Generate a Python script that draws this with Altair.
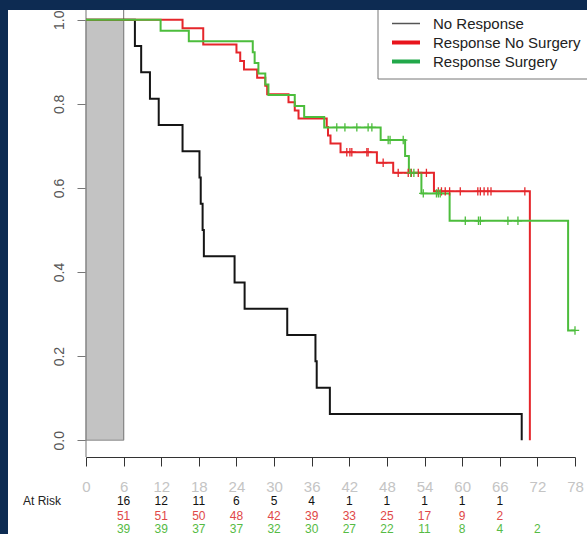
import altair as alt
import pandas as pd

groups = ["No Response", "Response No Surgery", "Response Surgery"]
line_colors = ["#151515", "#e5262b", "#4cbd3c"]
legend_colors = ["#555555", "#e8141c", "#22a84a"]

# Kaplan-Meier steps (months, survival)
nr_time = [0, 7.8, 8.8, 10.2, 11.6, 15.4, 18.1, 18.3, 18.6, 18.8, 23.7, 25.3, 32.1, 36.6, 36.8, 38.9, 69.5]
nr_surv = [1.0, 0.9375, 0.875, 0.8125, 0.75, 0.6875, 0.625, 0.5625, 0.5, 0.4375, 0.375, 0.3125, 0.25, 0.1875, 0.125, 0.0625, 0.0]

rn_time = [0, 15.4, 18.7, 24.0, 24.6, 25.2, 27.3, 28.6, 28.9, 32.3, 33.3, 33.9, 38.4, 38.6, 39.0, 40.6, 46.4, 49.0, 55.5, 70.8]
rn_surv = [1.0, 0.980, 0.941, 0.922, 0.902, 0.882, 0.862, 0.843, 0.823, 0.804, 0.784, 0.765, 0.745, 0.725, 0.706, 0.685, 0.660, 0.636, 0.592, 0.0]

rs_time = [0, 11.9, 16.4, 26.6, 26.9, 27.5, 28.6, 29.1, 33.3, 34.8, 38.0, 47.0, 50.9, 51.5, 53.5, 58.0, 76.9, 78.0]
rs_surv = [1.0, 0.974, 0.949, 0.923, 0.897, 0.872, 0.846, 0.821, 0.795, 0.769, 0.744, 0.714, 0.676, 0.636, 0.587, 0.522, 0.261, 0.261]

# censoring marks
rn_cens_time = [41.6, 42.1, 42.4, 44.8, 45.0, 47.4, 49.8, 51.4, 51.9, 53.0, 54.3,
                56.2, 56.7, 57.3, 58.0, 59.7, 62.5, 62.9, 63.5, 64.1, 64.6, 70.0]
rn_cens_surv = [0.685] * 5 + [0.660] + [0.636] * 5 + [0.592] * 11
rs_cens_time = [40.0, 41.3, 43.2, 45.0, 45.6, 48.2, 48.5, 50.6, 51.8, 52.3,
                53.8, 55.9, 56.2, 56.5, 60.5, 62.6, 62.9, 67.3, 68.9, 78.0]
rs_cens_surv = [0.744] * 5 + [0.714] * 3 + [0.636] * 2 + [0.587] * 4 + [0.522] * 5 + [0.261]

# at risk table
risk_months = [6, 12, 18, 24, 30, 36, 42, 48, 54, 60, 66, 72]
risk_nr = [16, 12, 11, 6, 5, 4, 1, 1, 1, 1, 1]
risk_rn = [51, 51, 50, 48, 42, 39, 33, 25, 17, 9, 2]
risk_rs = [39, 39, 37, 37, 32, 30, 27, 22, 11, 8, 4, 2]

x_ticks = list(range(0, 79, 6))
y_ticks = [0.0, 0.2, 0.4, 0.6, 0.8, 1.0]

shade_start, shade_end = 0, 6

FONT = "Liberation Sans"
NAVY = "#0d2b52"

curves = pd.concat([
    pd.DataFrame({"t": nr_time, "s": nr_surv, "g": groups[0]}),
    pd.DataFrame({"t": rn_time, "s": rn_surv, "g": groups[1]}),
    pd.DataFrame({"t": rs_time, "s": rs_surv, "g": groups[2]}),
])
cens = pd.concat([
    pd.DataFrame({"t": rn_cens_time, "s": rn_cens_surv, "g": groups[1]}),
    pd.DataFrame({"t": rs_cens_time, "s": rs_cens_surv, "g": groups[2]}),
])

xs = alt.Scale(domain=[0, 78], nice=False, zero=False)
ys = alt.Scale(domain=[-0.04, 1.04], nice=False, zero=False)
cs = alt.Scale(domain=groups, range=line_colors)

x_axis = alt.Axis(values=x_ticks, title=None, grid=False, tickSize=9, tickColor="#333",
                  domainColor="#333", labelColor="#c4c4c4", labelFontSize=15, labelFont=FONT,
                  labelPadding=13, labelFlush=False, labelOverlap=False, labelBound=False)
y_axis = alt.Axis(values=y_ticks, title=None, grid=False, tickSize=9, tickColor="#777",
                  domain=False, labelColor="#555", labelFontSize=14, labelFont=FONT,
                  labelAngle=270, labelAlign="center", labelBaseline="alphabetic",
                  labelPadding=14, format=".1f", labelFlush=False, labelOverlap=False)


def X(field):
    return alt.X(field, scale=xs, axis=x_axis)


def Y(field):
    return alt.Y(field, scale=ys, axis=y_axis)


shade = alt.Chart(pd.DataFrame({"a": [shade_start], "b": [shade_end], "lo": [0.0], "hi": [1.0]})).mark_rect(
    fill="#c3c3c3", stroke="#8a8a8a", strokeWidth=1
).encode(x=X("a:Q"), x2="b:Q", y=Y("lo:Q"), y2="hi:Q")

edge_rules = alt.Chart(pd.DataFrame({"a": [shade_start, shade_end], "lo": [-0.04, 0.0], "hi": [1.04, 1.04]})).mark_rule(
    color="#8a8a8a", strokeWidth=1.2
).encode(x=X("a:Q"), y=Y("lo:Q"), y2="hi:Q")

lines = alt.Chart(curves).mark_line(interpolate="step-after", strokeWidth=2).encode(
    x=X("t:Q"), y=Y("s:Q"),
    color=alt.Color("g:N", scale=cs, legend=None),
    detail="g:N"
)

marks = alt.Chart(cens).mark_point(shape="M-1,0L1,0M0,-1L0,1", filled=False, size=70, strokeWidth=1.3, opacity=1).encode(
    x=X("t:Q"), y=Y("s:Q"),
    color=alt.Color("g:N", scale=cs, legend=None)
)

risk_layers = []
row_y = [498, 512.5, 525.5]
row_colors = ["#111111", "#e04848", "#55bb44"]
for counts, yy, col in zip([risk_nr, risk_rn, risk_rs], row_y, row_colors):
    df = pd.DataFrame({"m": risk_months[:len(counts)], "n": [str(c) for c in counts]})
    risk_layers.append(alt.Chart(df).mark_text(font=FONT, fontSize=12, color=col, baseline="middle").encode(
        x=X("m:Q"), y=alt.value(yy), text="n:N"))

at_risk_label = alt.Chart(pd.DataFrame({"l": ["At Risk"]})).mark_text(
    font=FONT, fontSize=12, color="#222", baseline="middle", align="center"
).encode(x=alt.value(-44), y=alt.value(498), text="l:N")

# legend
leg_box = alt.Chart(pd.DataFrame({"k": [0]})).mark_rect(fill="white", stroke="#777", strokeWidth=1).encode(
    x=alt.value(292), x2=alt.value(520), y=alt.value(-10), y2=alt.value(76))
leg_layers = [leg_box]
leg_y = [20.5, 39.5, 58.5]
leg_w = [1.5, 4, 4]
for g, col, yy, w in zip(groups, legend_colors, leg_y, leg_w):
    dfg = pd.DataFrame({"g": [g]})
    leg_layers.append(alt.Chart(dfg).mark_rule(color=col, strokeWidth=w).encode(
        x=alt.value(306), x2=alt.value(334), y=alt.value(yy)))
    leg_layers.append(alt.Chart(dfg).mark_text(font=FONT, fontSize=15, color="#222", align="left", baseline="middle").encode(
        x=alt.value(347), y=alt.value(yy), text="g:N"))

frame_top = alt.Chart(pd.DataFrame({"k": [0]})).mark_rect(fill=NAVY).encode(
    x=alt.value(-86), x2=alt.value(510), y=alt.value(-3), y2=alt.value(7))
frame_left = alt.Chart(pd.DataFrame({"k": [0]})).mark_rect(fill=NAVY).encode(
    x=alt.value(-86), x2=alt.value(-78), y=alt.value(-3), y2=alt.value(540))

chart = alt.layer(
    shade, edge_rules, lines, marks, *risk_layers, at_risk_label, *leg_layers, frame_top, frame_left
).properties(
    width=489, height=454,
    autosize=alt.AutoSizeParams(type="none"),
    padding={"left": 86, "top": 3, "right": 12, "bottom": 77},
    background="white"
).configure_view(stroke=None).configure_axis(labelOverlap=False)

chart.save("out.html", embed_options={"renderer": "svg", "actions": False})
